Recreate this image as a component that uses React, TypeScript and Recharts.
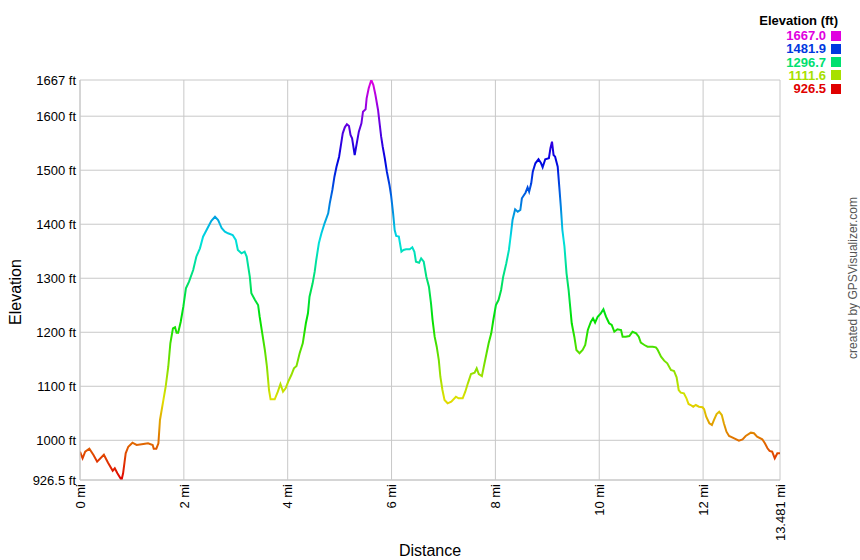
import React from 'react';
import { LineChart, Line, XAxis, YAxis, CartesianGrid } from 'recharts';

const distanceMi: number[] = [
  0, 0.05, 0.1, 0.18, 0.26, 0.33, 0.46, 0.54, 0.63, 0.67, 0.72, 0.8, 0.83, 0.88, 0.93, 1.01, 1.09, 1.22, 1.31, 1.4,
  1.42, 1.47, 1.51, 1.54, 1.65, 1.7, 1.74, 1.79, 1.83, 1.86, 1.89, 1.94, 1.99, 2.04, 2.1, 2.18, 2.24, 2.31, 2.37, 2.47,
  2.53, 2.6, 2.66, 2.73, 2.79, 2.85, 2.94, 3.0, 3.04, 3.11, 3.17, 3.21, 3.27, 3.3, 3.37, 3.43, 3.46, 3.51, 3.56, 3.6,
  3.64, 3.67, 3.75, 3.81, 3.86, 3.91, 3.96, 4.01, 4.07, 4.12, 4.17, 4.23, 4.29, 4.35, 4.39, 4.42, 4.48, 4.52, 4.55, 4.6,
  4.65, 4.71, 4.78, 4.81, 4.86, 4.9, 4.94, 4.99, 5.03, 5.06, 5.1, 5.14, 5.18, 5.21, 5.24, 5.29, 5.33, 5.37, 5.42, 5.45,
  5.5, 5.52, 5.56, 5.61, 5.65, 5.69, 5.74, 5.77, 5.8, 5.83, 5.87, 5.91, 5.96, 5.99, 6.03, 6.06, 6.09, 6.14, 6.19, 6.23,
  6.28, 6.35, 6.4, 6.44, 6.47, 6.53, 6.57, 6.62, 6.67, 6.72, 6.76, 6.79, 6.83, 6.87, 6.91, 6.94, 6.98, 7.02, 7.08, 7.15,
  7.24, 7.29, 7.37, 7.42, 7.47, 7.53, 7.6, 7.64, 7.68, 7.74, 7.79, 7.83, 7.87, 7.92, 7.96, 8.01, 8.06, 8.11, 8.15, 8.21,
  8.26, 8.3, 8.33, 8.38, 8.43, 8.48, 8.51, 8.58, 8.62, 8.65, 8.69, 8.72, 8.77, 8.83, 8.88, 8.91, 8.96, 9.03, 9.06, 9.09,
  9.12, 9.15, 9.2, 9.23, 9.26, 9.29, 9.33, 9.37, 9.41, 9.44, 9.47, 9.52, 9.56, 9.62, 9.68, 9.73, 9.78, 9.84, 9.88, 9.92,
  9.97, 10.03, 10.08, 10.13, 10.19, 10.24, 10.29, 10.35, 10.42, 10.45, 10.51, 10.58, 10.64, 10.71, 10.76, 10.8, 10.87, 10.93, 11.03, 11.09,
  11.12, 11.19, 11.25, 11.31, 11.38, 11.44, 11.49, 11.53, 11.57, 11.63, 11.68, 11.72, 11.76, 11.81, 11.86, 11.92, 11.99, 12.02, 12.06, 12.12,
  12.17, 12.21, 12.26, 12.31, 12.36, 12.4, 12.45, 12.5, 12.6, 12.69, 12.76, 12.82, 12.92, 12.98, 13.04, 13.14, 13.19, 13.24, 13.28, 13.33,
  13.38, 13.43, 13.481,
];

const elevationFt: number[] = [
  979, 966.7, 979, 984.4, 972.8, 960.4, 973.3, 958.5, 943.7, 948.1, 938.9, 926.5, 938.9, 975.9, 988.1, 995.6, 991.3, 993.2, 994.4, 991.3,
  984.4, 984.4, 994.4, 1037.6, 1099.2, 1136.2, 1179.6, 1207.3, 1209.2, 1199.2, 1199.2, 1219.6, 1247.3, 1281.4, 1293.6, 1315.3, 1339.9, 1355.4, 1376.9, 1395.4,
  1406.5, 1413.9, 1407.8, 1392.5, 1386.2, 1383.2, 1380.1, 1370.8, 1352.3, 1346.2, 1349.2, 1340.0, 1302.9, 1272.1, 1259.7, 1250.5, 1228.8, 1198.1, 1167.2, 1136.2,
  1093.1, 1075.9, 1075.9, 1090.0, 1104.2, 1090.0, 1096.3, 1108.5, 1120.9, 1133.3, 1137.5, 1161.1, 1179.6, 1216.6, 1235.1, 1265.8, 1290.6, 1312.1, 1333.8, 1364.7,
  1383.2, 1401.7, 1420.2, 1438.7, 1463.4, 1488.0, 1506.5, 1525.0, 1549.8, 1568.3, 1579.4, 1585.0, 1581.8, 1565.2, 1559.1, 1528.2, 1549.8, 1571.3, 1586.8, 1608.3,
  1612.8, 1633.1, 1651.6, 1667, 1657.7, 1639.2, 1611.5, 1586.8, 1562.0, 1543.5, 1522.0, 1497.2, 1472.6, 1454.1, 1420.2, 1389.3, 1378.2, 1377.0, 1349.1, 1352.3,
  1353.6, 1353.6, 1357.3, 1349.1, 1330.6, 1328.8, 1336.9, 1330.6, 1302.9, 1284.4, 1253.6, 1222.7, 1191.8, 1173.3, 1148.6, 1117.7, 1093.1, 1074.6, 1068.5, 1071.5,
  1080.7, 1077.7, 1077.7, 1090.0, 1105.5, 1122.7, 1125.1, 1133.3, 1122.7, 1119.0, 1142.5, 1161.1, 1179.6, 1198.1, 1222.7, 1250.5, 1259.7, 1278.2, 1302.9, 1327.7,
  1352.3, 1383.2, 1407.8, 1427.6, 1423.2, 1426.3, 1448.0, 1458.4, 1468.4, 1460.2, 1475.8, 1497.2, 1512.8, 1520.2, 1512.8, 1505.4, 1520.2, 1522.0, 1540.6, 1552.8,
  1528.2, 1525.0, 1506.5, 1469.5, 1432.5, 1389.3, 1358.4, 1309.2, 1278.2, 1247.3, 1216.6, 1191.8, 1167.2, 1161.1, 1167.2, 1176.4, 1204.2, 1219.6, 1225.8, 1217.7,
  1228.8, 1235.1, 1242.5, 1228.8, 1216.6, 1213.5, 1201.0, 1205.5, 1204.2, 1191.8, 1191.8, 1193.1, 1201.0, 1198.1, 1191.8, 1180.7, 1176.4, 1173.3, 1173.3, 1172.1,
  1168.4, 1154.8, 1147.4, 1142.5, 1130.1, 1128.3, 1116.6, 1093.1, 1088.1, 1087.0, 1077.7, 1067.2, 1065.3, 1062.2, 1065.3, 1062.2, 1061.1, 1057.4, 1043.7, 1031.5,
  1028.3, 1037.6, 1048.7, 1053.0, 1046.8, 1031.5, 1015.9, 1008.0, 1003.7, 999.2, 1001.8, 1008.0, 1014.1, 1013.0, 1006.7, 1001.8, 994.4, 985.2, 980.3, 978.9,
  966.7, 975.9, 975.9,
];

const xTicks: number[] = [0, 2, 4, 6, 8, 10, 12, 13.481];
const yTicks: number[] = [926.5, 1000, 1100, 1200, 1300, 1400, 1500, 1600, 1667];
const legendValues: string[] = ['1667.0', '1481.9', '1296.7', '1111.6', '926.5'];

const MIN_ELEV = 926.5;
const MAX_ELEV = 1667;

const data = distanceMi.map((d, i) => ({ d, elev: elevationFt[i] }));

const FONT = '"Liberation Sans", Arial, Helvetica, sans-serif';

const colorFor = (value: number) => {
  const frac = (value - MIN_ELEV) / (MAX_ELEV - MIN_ELEV);
  const hue = 300 * frac;
  return `hsl(${hue.toFixed(1)}, 100%, 44%)`;
};

const gradientStops = Array.from({ length: 31 }, (_, i) => {
  const offset = i / 30;
  const value = MAX_ELEV - offset * (MAX_ELEV - MIN_ELEV);
  return { offset, color: colorFor(value) };
});

const XTick = (props: any) => {
  const { x, y, payload } = props;
  return (
    <text
      x={0}
      y={0}
      transform={`translate(${x},${y}) rotate(-90)`}
      textAnchor="end"
      dy="0.36em"
      fontSize={13}
      fontFamily={FONT}
      fill="#000"
    >
      {`${payload.value} mi`}
    </text>
  );
};

export default function App() {
  return (
    <div style={{ position: 'absolute', left: 0, top: 0, width: 860, height: 560, background: '#fff' }}>
      <LineChart
        width={860}
        height={560}
        data={data}
        margin={{ top: 80, right: 80, bottom: 0, left: 0 }}
      >
        <defs>
          <linearGradient id="elevGrad" x1="0" y1="0" x2="0" y2="1">
            {gradientStops.map((s, i) => (
              <stop key={i} offset={s.offset} stopColor={s.color} />
            ))}
          </linearGradient>
        </defs>
        <CartesianGrid stroke="#c8c8c8" strokeWidth={1} />
        <XAxis
          dataKey="d"
          type="number"
          domain={[0, 13.481]}
          ticks={xTicks}
          interval={0}
          height={80}
          tickSize={4}
          tickMargin={0}
          tickLine={false}
          axisLine={{ stroke: '#c8c8c8' }}
          tick={<XTick />}
          allowDataOverflow
        />
        <YAxis
          type="number"
          domain={[MIN_ELEV, MAX_ELEV]}
          ticks={yTicks}
          interval={0}
          width={80}
          tickSize={4}
          tickMargin={0}
          tickLine={false}
          axisLine={{ stroke: '#c8c8c8' }}
          tickFormatter={(v: number) => `${v} ft`}
          tick={{ fontSize: 13, fontFamily: FONT, fill: '#000' }}
          allowDataOverflow
        />
        <Line
          type="linear"
          dataKey="elev"
          stroke="url(#elevGrad)"
          strokeWidth={2}
          dot={false}
          activeDot={false}
          isAnimationActive={false}
        />
      </LineChart>

      <div
        style={{
          position: 'absolute',
          left: 16,
          top: 292,
          transform: 'translate(-50%, -50%) rotate(-90deg)',
          fontFamily: FONT,
          fontSize: 16,
          color: '#000',
          whiteSpace: 'nowrap',
        }}
      >
        Elevation
      </div>
      <div
        style={{
          position: 'absolute',
          left: 430,
          top: 551,
          transform: 'translate(-50%, -50%)',
          fontFamily: FONT,
          fontSize: 16,
          color: '#000',
          whiteSpace: 'nowrap',
        }}
      >
        Distance
      </div>
      <div
        style={{
          position: 'absolute',
          left: 853,
          top: 278,
          transform: 'translate(-50%, -50%) rotate(-90deg)',
          fontFamily: FONT,
          fontSize: 12,
          color: '#555',
          whiteSpace: 'nowrap',
        }}
      >
        created by GPSVisualizer.com
      </div>

      <div
        style={{
          position: 'absolute',
          right: 22,
          top: 13,
          fontFamily: FONT,
          fontSize: 13,
          fontWeight: 'bold',
          color: '#000',
          whiteSpace: 'nowrap',
          lineHeight: '16px',
        }}
      >
        Elevation (ft)
      </div>
      {legendValues.map((label, i) => {
        const value = parseFloat(label);
        const c = colorFor(value);
        return (
          <div
            key={label}
            style={{
              position: 'absolute',
              right: 19,
              top: 29 + i * 13.3,
              height: 13,
              display: 'flex',
              alignItems: 'center',
              fontFamily: FONT,
              fontSize: 13,
              fontWeight: 'bold',
              color: c,
              whiteSpace: 'nowrap',
            }}
          >
            <span style={{ marginRight: 5 }}>{label}</span>
            <span style={{ display: 'inline-block', width: 10, height: 10, background: c }} />
          </div>
        );
      })}
    </div>
  );
}
